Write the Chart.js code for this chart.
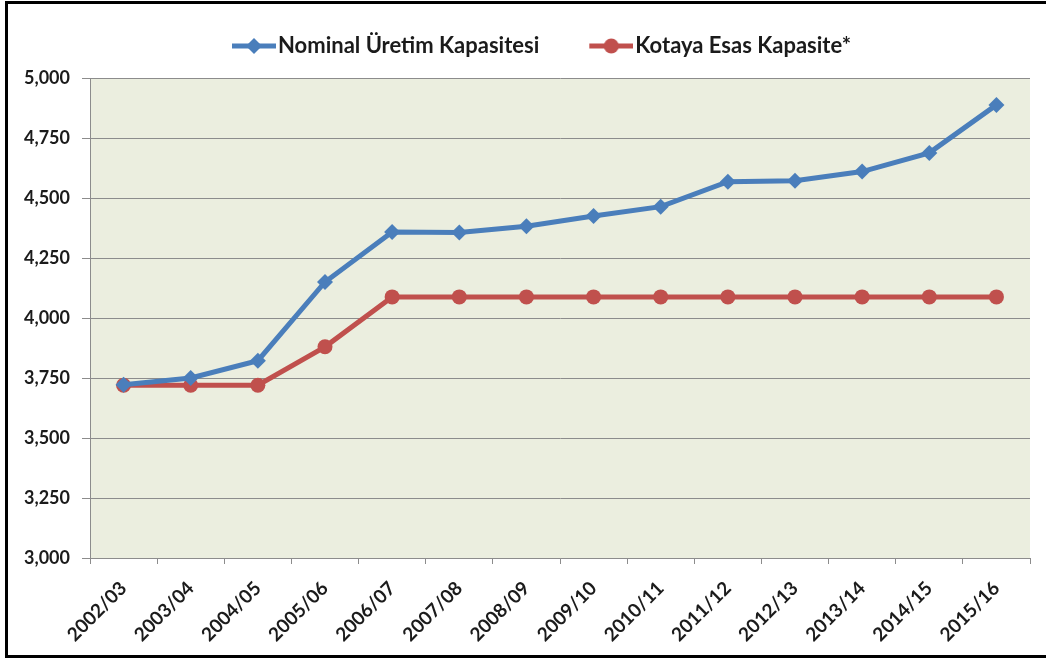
<!DOCTYPE html>
<html>
<head>
<meta charset="utf-8">
<script src="https://cdn.jsdelivr.net/npm/chart.js@4/dist/chart.umd.min.js"></script>
<style>
  html, body { margin: 0; padding: 0; background: #fff; }
  #wrap { width: 1046px; height: 660px; position: relative; }
</style>
</head>
<body>
<div id="wrap"><canvas id="grafik" width="1046" height="660"></canvas></div>
<script>
// sezonlar (x ekseni)
var sezonlar = ['2002/03', '2003/04', '2004/05', '2005/06', '2006/07', '2007/08', '2008/09',
                '2009/10', '2010/11', '2011/12', '2012/13', '2013/14', '2014/15', '2015/16'];
// nominal üretim kapasitesi
var nominal = [3722, 3750, 3822, 4150, 4358, 4356, 4382, 4425, 4464, 4568, 4572, 4610, 4688, 4888];
// kotaya esas kapasite
var kotaya = [3720, 3720, 3720, 3880, 4088, 4088, 4088, 4088, 4088, 4088, 4088, 4088, 4088, 4088];
var seriAdlari = ['Nominal Üretim Kapasitesi', 'Kotaya Esas Kapasite*'];
var yTikler = [3000, 3250, 3500, 3750, 4000, 4250, 4500, 4750, 5000];

var mavi = '#4A7EBB';
var kirmizi = '#C0504D';
var yazi = '#1b1b1b';
var fontAdi = 'Lato, "Open Sans", sans-serif';

// legend ikonu: çizgi + işaret (kutu 50px, resim 68px, çizgi sağa kaydırılmış)
function ikonYap(renk, tip) {
    var c = document.createElement('canvas');
    c.width = 68; c.height = 18;
    var g = c.getContext('2d');
    g.strokeStyle = renk;
    g.lineWidth = 5;
    g.beginPath();
    g.moveTo(24, 9); g.lineTo(68, 9);
    g.stroke();
    g.fillStyle = renk;
    g.beginPath();
    if (tip === 'rectRot') {
        g.moveTo(46, 1); g.lineTo(54, 9); g.lineTo(46, 17); g.lineTo(38, 9);
    } else {
        g.arc(46, 9, 7.5, 0, Math.PI * 2);
    }
    g.closePath();
    g.fill();
    return c;
}
var ikonlar = [ikonYap(mavi, 'rectRot'), ikonYap(kirmizi, 'circle')];

// plot alanı arka planı, çerçeve, legend kaydırma
var arkaPlan = {
    id: 'arkaPlan',
    afterLayout: function(chart) {
        chart.legend.left += 19;
        chart.legend.right += 19;
    },
    beforeDraw: function(chart) {
        var ctx = chart.ctx, a = chart.chartArea;
        ctx.save();
        ctx.fillStyle = '#EBEEDF';
        ctx.fillRect(a.left, a.top, a.right - a.left, a.bottom - a.top);
        ctx.restore();
    },
    afterDraw: function(chart) {
        var ctx = chart.ctx;
        ctx.save();
        ctx.strokeStyle = '#000';
        ctx.lineWidth = 3;
        ctx.strokeRect(6.5, 2.5, 1100, 654);
        ctx.restore();
    }
};

var ctx = document.getElementById('grafik').getContext('2d');
var grafik = new Chart(ctx, {
    type: 'line',
    data: {
        labels: sezonlar,
        datasets: [{
            label: seriAdlari[0],
            data: nominal,
            borderColor: mavi,
            backgroundColor: mavi,
            borderWidth: 5,
            pointStyle: 'rectRot',
            pointRadius: 8,
            pointHoverRadius: 8,
            pointBorderWidth: 0,
            tension: 0
        }, {
            label: seriAdlari[1],
            data: kotaya,
            borderColor: kirmizi,
            backgroundColor: kirmizi,
            borderWidth: 5,
            pointStyle: 'circle',
            pointRadius: 7.5,
            pointHoverRadius: 7.5,
            pointBorderWidth: 0,
            tension: 0
        }]
    },
    options: {
        responsive: false,
        animation: false,
        layout: { padding: { left: 0, right: 16, top: 0, bottom: 0 } },
        plugins: {
            tooltip: { enabled: false },
            // legend ile plot arasında boşluk
            title: {
                display: true,
                text: '',
                padding: 0,
                font: { size: 11, lineHeight: 1 }
            },
            legend: {
                position: 'top',
                align: 'center',
                weight: 3000,
                labels: {
                    usePointStyle: true,
                    pointStyleWidth: 50,
                    padding: 35,
                    color: yazi,
                    font: { family: fontAdi, size: 22, weight: 'bold' },
                    generateLabels: function(chart) {
                        return chart.data.datasets.map(function(ds, i) {
                            return {
                                text: ds.label,
                                fillStyle: ds.borderColor,
                                strokeStyle: ds.borderColor,
                                lineWidth: 0,
                                pointStyle: ikonlar[i],
                                fontColor: yazi,
                                datasetIndex: i
                            };
                        });
                    }
                }
            }
        },
        scales: {
            x: {
                offset: true,
                grid: {
                    offset: true,
                    drawOnChartArea: false,
                    drawTicks: true,
                    tickLength: 6,
                    color: '#8c8c8c'
                },
                border: { color: '#8c8c8c', width: 1 },
                ticks: {
                    color: yazi,
                    maxRotation: 45,
                    minRotation: 45,
                    padding: 13,
                    font: { family: fontAdi, size: 19, weight: 'bold' }
                },
                afterFit: function(scale) { scale.height = 102; }
            },
            y: {
                min: 3000,
                max: 5000,
                afterBuildTicks: function(scale) {
                    scale.ticks = yTikler.map(function(v) { return { value: v }; });
                },
                grid: {
                    color: '#8c8c8c',
                    tickLength: 8,
                    lineWidth: 1
                },
                border: { color: '#8c8c8c', width: 1 },
                ticks: {
                    color: yazi,
                    padding: 12,
                    font: { family: fontAdi, size: 18, weight: 'bold' },
                    callback: function(v) { return v.toLocaleString('en-US'); }
                },
                afterFit: function(scale) { scale.width = 90; }
            }
        }
    },
    plugins: [arkaPlan]
});
</script>
</body>
</html>
